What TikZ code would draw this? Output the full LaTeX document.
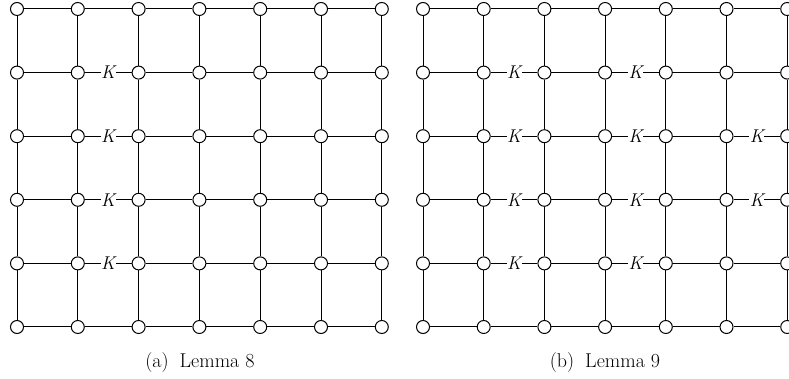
\documentclass[tikz,border=0pt]{standalone}
\usepackage{fontspec}
\usepackage{tikz}

\tikzset{
  vtx/.style={draw,circle,fill=white,inner sep=0pt,minimum size=13pt,line width=1pt},
  klabel/.style={fill=white,inner sep=0.6pt,font=\fontsize{18.5}{19}\selectfont\itshape},
  caption/.style={font=\fontsize{20}{22}\selectfont}
}

\begin{document}
\begin{tikzpicture}[x=1pt,y=1pt,line width=1pt]
  \useasboundingbox (0,0) rectangle (789,379);

  \foreach \i in {0,...,6} {
    \foreach \j in {0,...,5} {
      \node[vtx] (a-\i-\j) at ({17+60.8*\i},{370-63.6*\j}) {};
      \node[vtx] (b-\i-\j) at ({423+60.7*\i},{370-63.6*\j}) {};
    }
  }

  \foreach \i [evaluate=\i as \k using int(\i+1)] in {0,...,5} {
    \foreach \j in {0,...,5} {
      \draw (a-\i-\j) -- (a-\k-\j);
      \draw (b-\i-\j) -- (b-\k-\j);
    }
  }
  \foreach \j [evaluate=\j as \k using int(\j+1)] in {0,...,4} {
    \foreach \i in {0,...,6} {
      \draw (a-\i-\j) -- (a-\i-\k);
      \draw (b-\i-\j) -- (b-\i-\k);
    }
  }

  \foreach \j in {1,...,4} {
    \path (a-1-\j) -- node[klabel] (ka-\j) {K} (a-2-\j);
    \path (b-1-\j) -- node[klabel] (kb-\j) {K} (b-2-\j);
    \path (b-3-\j) -- node[klabel] (kc-\j) {K} (b-4-\j);
  }
  \foreach \j in {2,3} {
    \path (b-5-\j) -- node[klabel] (kd-\j) {K} (b-6-\j);
  }

  \node[caption] (capa) at (200,16) {(a)\hspace{0.55em}Lemma 8};
  \node[caption] (capb) at (605,16) {(b)\hspace{0.55em}Lemma 9};
\end{tikzpicture}
\end{document}
